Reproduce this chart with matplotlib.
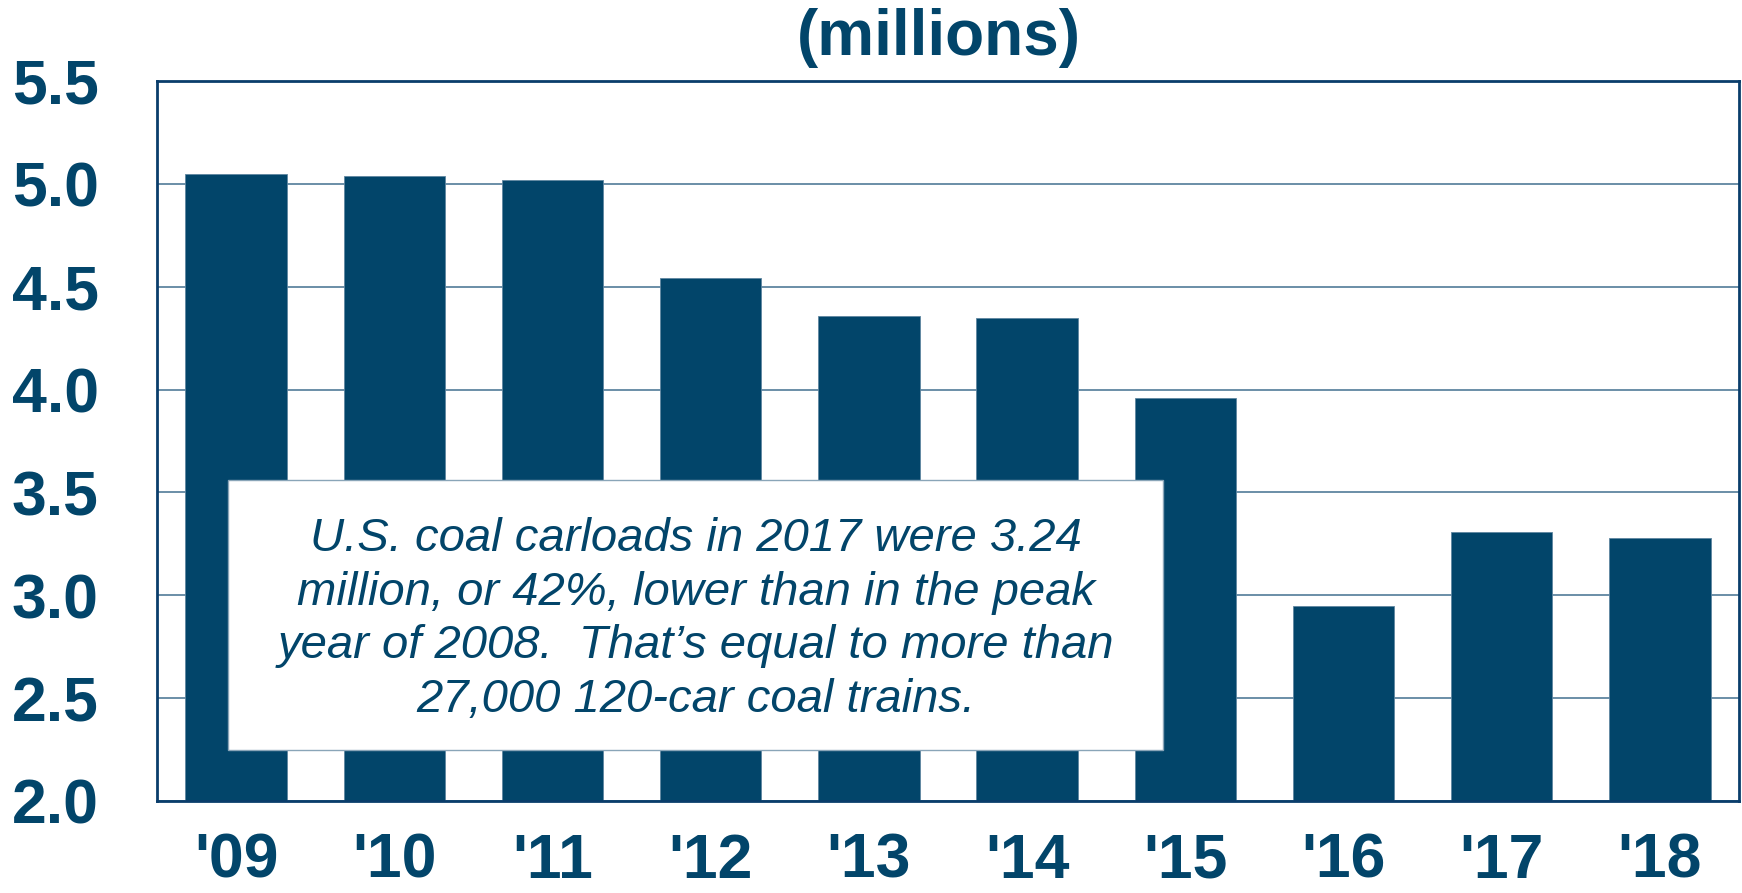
import matplotlib.pyplot as plt
from matplotlib.patches import Rectangle

years = ["'09", "'10", "'11", "'12", "'13", "'14", "'15", "'16", "'17", "'18"]
carloads = [5.05, 5.04, 5.02, 4.54, 4.36, 4.35, 3.96, 2.95, 3.31, 3.28]
y_ticks = [2.0, 2.5, 3.0, 3.5, 4.0, 4.5, 5.0, 5.5]
title = "(millions)"
note = ("U.S. coal carloads in 2017 were 3.24\n"
        "million, or 42%, lower than in the peak\n"
        "year of 2008.  That\u2019s equal to more than\n"
        "27,000 120-car coal trains.")

navy = "#02456A"
plt.rcParams['font.family'] = ['Liberation Sans', 'DejaVu Sans']

fig = plt.figure(figsize=(17.42, 8.93), dpi=100)
ax = fig.add_axes([157 / 1742, 92 / 893, 1582 / 1742, 720 / 893])

ax.bar(range(len(years)), carloads, width=0.64, color=navy,
       edgecolor="#5F86A0", linewidth=0.6, zorder=2)
ax.set_xlim(-0.5, len(years) - 0.5)
ax.set_ylim(2.0, 5.5)
ax.set_yticks(y_ticks)
ax.set_yticklabels([f"{v:.1f}" for v in y_ticks])
ax.set_xticks(range(len(years)))
ax.set_xticklabels(years)

ax.yaxis.grid(True, color="#5F86A0", linewidth=1.3, zorder=0)
ax.set_axisbelow(True)
for s in ax.spines.values():
    s.set_color("#0A3D6B")
    s.set_linewidth(2)
ax.tick_params(axis='both', length=0, colors=navy, labelsize=45)
ax.tick_params(axis='y', pad=42)
ax.tick_params(axis='x', pad=22)
for lab in ax.get_xticklabels() + ax.get_yticklabels():
    lab.set_fontweight('bold')

fig.text(939 / 1742, 1 - 38 / 893, title, ha='center', va='center',
         fontsize=46, fontweight='bold', color=navy)

# note box
bx0, bx1 = (228 - 157) / 1582, (1163 - 157) / 1582
by0, by1 = (801 - 750) / 720, (801 - 480) / 720
ax.add_patch(Rectangle((bx0, by0), bx1 - bx0, by1 - by0, transform=ax.transAxes,
                       facecolor="white", edgecolor="#8AA5B8", linewidth=1, zorder=3))
ax.text((bx0 + bx1) / 2, (by0 + by1) / 2 - 0.006, note, transform=ax.transAxes,
        ha='center', va='center', fontsize=34, fontstyle='italic', color=navy,
        linespacing=1.28, zorder=4)

fig.savefig("out.png", dpi=100)
